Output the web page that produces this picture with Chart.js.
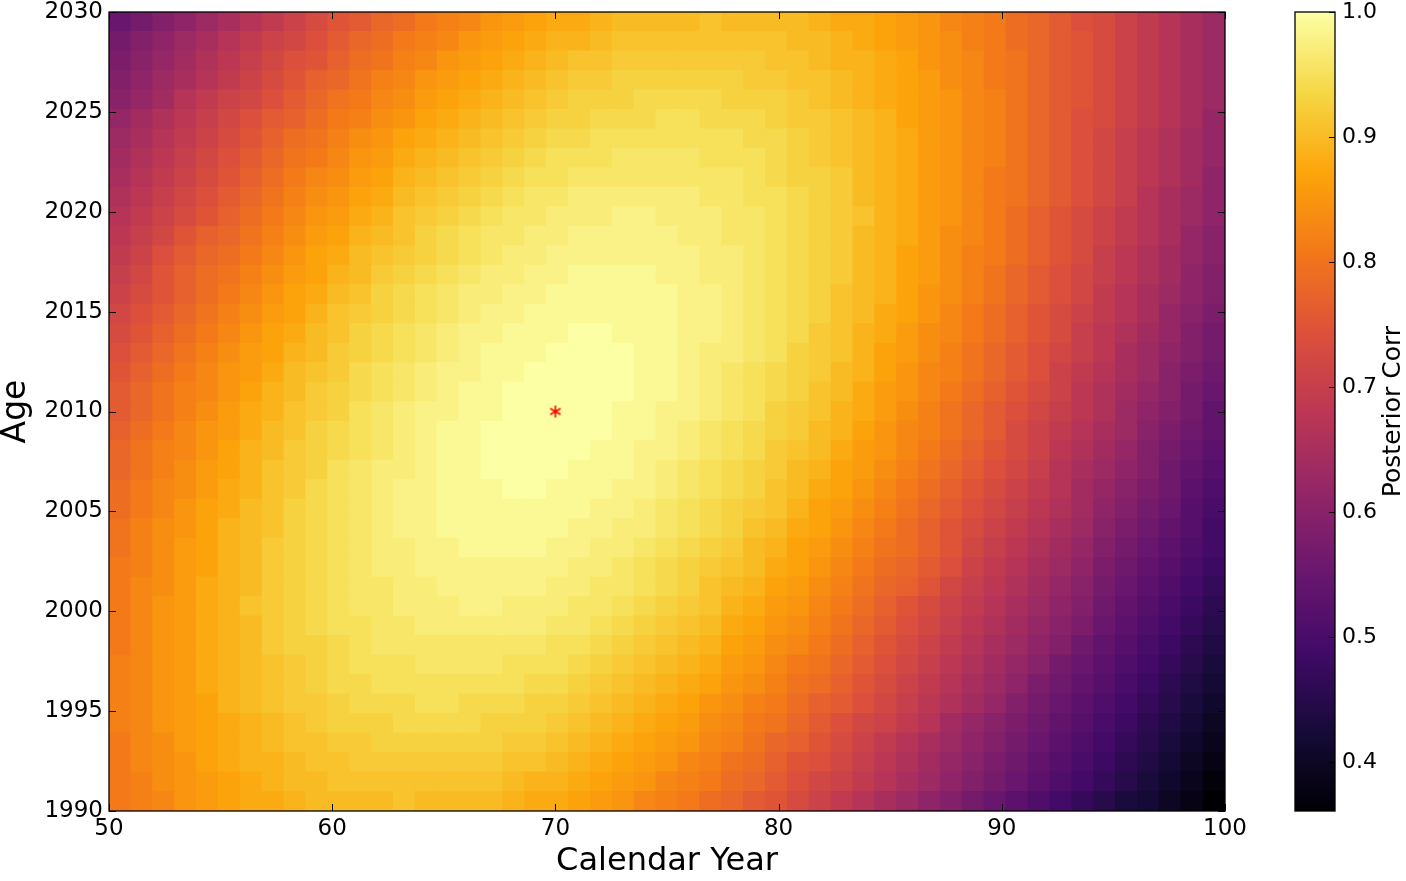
<!DOCTYPE html>
<html>
<head>
<meta charset="utf-8">
<title>Posterior Corr</title>
<script src="https://cdn.jsdelivr.net/npm/chart.js@4.4.1/dist/chart.umd.min.js"></script>
<style>
  html, body { margin: 0; padding: 0; background: #fff; }
  #wrap { position: relative; width: 1406px; height: 881px; }
  #main { position: absolute; left: 0; top: 0; width: 1260px; height: 881px; }
  #cbar { position: absolute; left: 1260px; top: 0; width: 146px; height: 881px; }
</style>
</head>
<body>
<div id="wrap">
  <div id="main"><canvas id="heat"></canvas></div>
  <div id="cbar"><canvas id="barra"></canvas></div>
</div>
<script>
// columnas (Calendar Year) y filas (Age)
const calYears = [50, 51, 52, 53, 54, 55, 56, 57, 58, 59, 60, 61, 62, 63, 64, 65, 66, 67, 68, 69, 70,
  71, 72, 73, 74, 75, 76, 77, 78, 79, 80, 81, 82, 83, 84, 85, 86, 87, 88, 89, 90,
  91, 92, 93, 94, 95, 96, 97, 98, 99, 100];
const ages = [1990, 1991, 1992, 1993, 1994, 1995, 1996, 1997, 1998, 1999, 2000,
  2001, 2002, 2003, 2004, 2005, 2006, 2007, 2008, 2009, 2010,
  2011, 2012, 2013, 2014, 2015, 2016, 2017, 2018, 2019, 2020,
  2021, 2022, 2023, 2024, 2025, 2026, 2027, 2028, 2029, 2030];

// ticks
const xTicks = [50, 60, 70, 80, 90, 100];
const yTicks = [1990, 1995, 2000, 2005, 2010, 2015, 2020, 2025, 2030];
const cbarTicks = [0.4, 0.5, 0.6, 0.7, 0.8, 0.9, 1.0];
const cbarMin = 0.361;
const cbarMax = 1.0;

// punto marcado
const bestPoint = [70, 2010];

// Posterior Corr, una fila por cada Age (1990 primero), 51 valores por fila
const posteriorCorr = [
  [0.81,0.82,0.83,0.85,0.86,0.87,0.88,0.88,0.89,0.90,0.90,0.90,0.90,0.91,0.90,0.90,0.90,0.90,0.89,0.88,0.88,0.87,0.86,0.85,0.83,0.82,0.81,0.79,0.78,0.76,0.75,0.73,0.71,0.69,0.67,0.65,0.63,0.61,0.59,0.57,0.55,0.53,0.51,0.49,0.47,0.45,0.43,0.42,0.40,0.38,0.36], // 1990
  [0.81,0.82,0.84,0.85,0.86,0.87,0.88,0.89,0.90,0.90,0.91,0.91,0.91,0.91,0.91,0.91,0.91,0.91,0.90,0.89,0.89,0.88,0.87,0.86,0.85,0.83,0.82,0.81,0.79,0.78,0.76,0.74,0.72,0.71,0.69,0.67,0.65,0.63,0.61,0.59,0.57,0.55,0.53,0.51,0.49,0.47,0.45,0.43,0.41,0.39,0.37], // 1991
  [0.81,0.83,0.84,0.85,0.87,0.88,0.89,0.89,0.90,0.91,0.91,0.92,0.92,0.92,0.92,0.92,0.92,0.92,0.91,0.91,0.90,0.89,0.88,0.87,0.86,0.85,0.83,0.82,0.80,0.79,0.77,0.75,0.74,0.72,0.70,0.68,0.66,0.64,0.62,0.60,0.58,0.56,0.54,0.52,0.50,0.48,0.46,0.44,0.42,0.40,0.38], // 1992
  [0.81,0.83,0.84,0.86,0.87,0.88,0.89,0.90,0.91,0.91,0.92,0.92,0.93,0.93,0.93,0.93,0.93,0.93,0.92,0.92,0.91,0.90,0.89,0.88,0.87,0.86,0.85,0.83,0.82,0.80,0.78,0.77,0.75,0.73,0.71,0.69,0.67,0.65,0.63,0.61,0.59,0.57,0.55,0.53,0.51,0.49,0.47,0.45,0.43,0.41,0.39], // 1993
  [0.82,0.83,0.85,0.86,0.87,0.88,0.89,0.90,0.91,0.92,0.93,0.93,0.93,0.94,0.94,0.94,0.94,0.93,0.93,0.93,0.92,0.91,0.90,0.89,0.88,0.87,0.86,0.84,0.83,0.81,0.80,0.78,0.76,0.74,0.72,0.71,0.69,0.67,0.64,0.62,0.60,0.58,0.56,0.54,0.52,0.50,0.48,0.46,0.44,0.42,0.40], // 1994
  [0.82,0.83,0.85,0.86,0.87,0.89,0.90,0.91,0.92,0.92,0.93,0.94,0.94,0.94,0.95,0.95,0.94,0.94,0.94,0.93,0.93,0.92,0.91,0.90,0.89,0.88,0.87,0.85,0.84,0.82,0.81,0.79,0.77,0.76,0.74,0.72,0.70,0.68,0.66,0.64,0.62,0.59,0.57,0.55,0.53,0.51,0.49,0.47,0.45,0.43,0.41], // 1995
  [0.82,0.83,0.85,0.86,0.88,0.89,0.90,0.91,0.92,0.93,0.94,0.94,0.95,0.95,0.95,0.95,0.95,0.95,0.95,0.94,0.94,0.93,0.92,0.91,0.90,0.89,0.88,0.87,0.85,0.84,0.82,0.80,0.79,0.77,0.75,0.73,0.71,0.69,0.67,0.65,0.63,0.61,0.58,0.56,0.54,0.52,0.50,0.48,0.46,0.44,0.42], // 1996
  [0.82,0.83,0.85,0.86,0.88,0.89,0.90,0.91,0.92,0.93,0.94,0.95,0.95,0.95,0.96,0.96,0.96,0.96,0.95,0.95,0.95,0.94,0.93,0.92,0.91,0.90,0.89,0.88,0.86,0.85,0.83,0.81,0.80,0.78,0.76,0.74,0.72,0.70,0.68,0.66,0.64,0.62,0.60,0.57,0.55,0.53,0.51,0.49,0.47,0.45,0.43], // 1997
  [0.81,0.83,0.85,0.86,0.88,0.89,0.90,0.92,0.93,0.93,0.94,0.95,0.96,0.96,0.96,0.96,0.96,0.96,0.96,0.96,0.95,0.95,0.94,0.93,0.92,0.91,0.90,0.89,0.87,0.86,0.84,0.83,0.81,0.79,0.77,0.75,0.73,0.71,0.69,0.67,0.65,0.63,0.61,0.59,0.56,0.54,0.52,0.50,0.48,0.46,0.44], // 1998
  [0.81,0.83,0.85,0.86,0.88,0.89,0.90,0.92,0.93,0.94,0.95,0.95,0.96,0.96,0.97,0.97,0.97,0.97,0.97,0.97,0.96,0.96,0.95,0.94,0.93,0.92,0.91,0.90,0.88,0.87,0.85,0.84,0.82,0.80,0.78,0.76,0.74,0.72,0.70,0.68,0.66,0.64,0.62,0.60,0.58,0.55,0.53,0.51,0.49,0.47,0.45], // 1999
  [0.81,0.83,0.85,0.86,0.88,0.89,0.91,0.92,0.93,0.94,0.95,0.96,0.96,0.97,0.97,0.97,0.98,0.98,0.97,0.97,0.97,0.96,0.96,0.95,0.94,0.93,0.92,0.91,0.89,0.88,0.86,0.85,0.83,0.81,0.79,0.77,0.75,0.73,0.71,0.69,0.67,0.65,0.63,0.61,0.59,0.56,0.54,0.52,0.50,0.48,0.46], // 2000
  [0.81,0.83,0.84,0.86,0.88,0.89,0.90,0.92,0.93,0.94,0.95,0.96,0.96,0.97,0.97,0.98,0.98,0.98,0.98,0.98,0.97,0.97,0.96,0.96,0.95,0.94,0.93,0.91,0.90,0.89,0.87,0.86,0.84,0.82,0.80,0.78,0.77,0.75,0.72,0.70,0.68,0.66,0.64,0.62,0.60,0.57,0.55,0.53,0.51,0.49,0.47], // 2001
  [0.81,0.82,0.84,0.86,0.87,0.89,0.90,0.92,0.93,0.94,0.95,0.96,0.97,0.97,0.98,0.98,0.98,0.98,0.98,0.98,0.98,0.97,0.97,0.96,0.95,0.94,0.93,0.92,0.91,0.90,0.88,0.87,0.85,0.83,0.81,0.79,0.78,0.76,0.74,0.71,0.69,0.67,0.65,0.63,0.61,0.58,0.56,0.54,0.52,0.50,0.48], // 2002
  [0.80,0.82,0.84,0.86,0.87,0.89,0.90,0.92,0.93,0.94,0.95,0.96,0.97,0.97,0.98,0.98,0.99,0.99,0.99,0.99,0.98,0.98,0.97,0.97,0.96,0.95,0.94,0.93,0.92,0.90,0.89,0.87,0.86,0.84,0.82,0.80,0.79,0.77,0.75,0.72,0.70,0.68,0.66,0.64,0.62,0.59,0.57,0.55,0.53,0.51,0.49], // 2003
  [0.80,0.82,0.84,0.85,0.87,0.89,0.90,0.91,0.93,0.94,0.95,0.96,0.97,0.98,0.98,0.99,0.99,0.99,0.99,0.99,0.99,0.98,0.98,0.97,0.97,0.96,0.95,0.94,0.93,0.91,0.90,0.88,0.87,0.85,0.83,0.81,0.79,0.77,0.75,0.73,0.71,0.69,0.67,0.65,0.63,0.60,0.58,0.56,0.54,0.52,0.49], // 2004
  [0.79,0.81,0.83,0.85,0.87,0.88,0.90,0.91,0.93,0.94,0.95,0.96,0.97,0.98,0.98,0.99,0.99,0.99,0.99,0.99,0.99,0.99,0.98,0.98,0.97,0.96,0.95,0.94,0.93,0.92,0.91,0.89,0.87,0.86,0.84,0.82,0.80,0.78,0.76,0.74,0.72,0.70,0.68,0.66,0.64,0.61,0.59,0.57,0.55,0.52,0.50], // 2005
  [0.79,0.81,0.83,0.84,0.86,0.88,0.89,0.91,0.92,0.94,0.95,0.96,0.97,0.98,0.98,0.99,0.99,0.99,1.00,1.00,0.99,0.99,0.99,0.98,0.98,0.97,0.96,0.95,0.94,0.93,0.91,0.90,0.88,0.87,0.85,0.83,0.81,0.79,0.77,0.75,0.73,0.71,0.69,0.67,0.64,0.62,0.60,0.58,0.56,0.53,0.51], // 2006
  [0.78,0.80,0.82,0.84,0.86,0.87,0.89,0.91,0.92,0.93,0.95,0.96,0.97,0.97,0.98,0.99,0.99,1.00,1.00,1.00,1.00,0.99,0.99,0.99,0.98,0.97,0.96,0.95,0.94,0.93,0.92,0.90,0.89,0.87,0.86,0.84,0.82,0.80,0.78,0.76,0.74,0.72,0.70,0.67,0.65,0.63,0.61,0.59,0.56,0.54,0.52], // 2007
  [0.78,0.80,0.82,0.83,0.85,0.87,0.89,0.90,0.92,0.93,0.94,0.95,0.96,0.97,0.98,0.99,0.99,1.00,1.00,1.00,1.00,1.00,0.99,0.99,0.98,0.98,0.97,0.96,0.95,0.94,0.92,0.91,0.90,0.88,0.86,0.85,0.83,0.81,0.79,0.77,0.75,0.73,0.71,0.68,0.66,0.64,0.62,0.59,0.57,0.55,0.53], // 2008
  [0.77,0.79,0.81,0.83,0.85,0.86,0.88,0.90,0.91,0.93,0.94,0.95,0.96,0.97,0.98,0.99,0.99,1.00,1.00,1.00,1.00,1.00,1.00,0.99,0.99,0.98,0.97,0.96,0.95,0.94,0.93,0.92,0.90,0.89,0.87,0.85,0.83,0.82,0.80,0.78,0.76,0.73,0.71,0.69,0.67,0.65,0.63,0.60,0.58,0.56,0.54], // 2009
  [0.76,0.78,0.80,0.82,0.84,0.86,0.88,0.89,0.91,0.92,0.93,0.95,0.96,0.97,0.98,0.98,0.99,0.99,1.00,1.00,1.00,1.00,1.00,0.99,0.99,0.98,0.98,0.97,0.96,0.95,0.93,0.92,0.91,0.89,0.88,0.86,0.84,0.82,0.80,0.78,0.76,0.74,0.72,0.70,0.68,0.66,0.63,0.61,0.59,0.57,0.54], // 2010
  [0.76,0.78,0.80,0.82,0.83,0.85,0.87,0.89,0.90,0.92,0.93,0.94,0.95,0.96,0.97,0.98,0.99,0.99,1.00,1.00,1.00,1.00,1.00,1.00,0.99,0.99,0.98,0.97,0.96,0.95,0.94,0.93,0.91,0.90,0.88,0.86,0.85,0.83,0.81,0.79,0.77,0.75,0.73,0.71,0.68,0.66,0.64,0.62,0.60,0.57,0.55], // 2011
  [0.75,0.77,0.79,0.81,0.83,0.85,0.86,0.88,0.90,0.91,0.92,0.94,0.95,0.96,0.97,0.98,0.98,0.99,0.99,1.00,1.00,1.00,1.00,1.00,0.99,0.99,0.98,0.97,0.96,0.95,0.94,0.93,0.92,0.90,0.89,0.87,0.85,0.83,0.82,0.80,0.78,0.76,0.74,0.71,0.69,0.67,0.65,0.63,0.60,0.58,0.56], // 2012
  [0.74,0.76,0.78,0.80,0.82,0.84,0.86,0.87,0.89,0.90,0.92,0.93,0.94,0.95,0.96,0.97,0.98,0.99,0.99,0.99,1.00,1.00,1.00,1.00,0.99,0.99,0.98,0.97,0.97,0.96,0.95,0.93,0.92,0.91,0.89,0.87,0.86,0.84,0.82,0.80,0.78,0.76,0.74,0.72,0.70,0.68,0.65,0.63,0.61,0.59,0.57], // 2013
  [0.73,0.75,0.77,0.79,0.81,0.83,0.85,0.87,0.88,0.90,0.91,0.93,0.94,0.95,0.96,0.97,0.98,0.98,0.99,0.99,0.99,1.00,1.00,0.99,0.99,0.99,0.98,0.98,0.97,0.96,0.95,0.94,0.92,0.91,0.89,0.88,0.86,0.84,0.83,0.81,0.79,0.77,0.75,0.73,0.70,0.68,0.66,0.64,0.62,0.59,0.57], // 2014
  [0.72,0.74,0.76,0.78,0.80,0.82,0.84,0.86,0.87,0.89,0.91,0.92,0.93,0.94,0.95,0.96,0.97,0.98,0.98,0.99,0.99,0.99,0.99,0.99,0.99,0.99,0.98,0.98,0.97,0.96,0.95,0.94,0.93,0.91,0.90,0.88,0.87,0.85,0.83,0.81,0.79,0.77,0.75,0.73,0.71,0.69,0.67,0.65,0.62,0.60,0.58], // 2015
  [0.71,0.73,0.75,0.77,0.79,0.81,0.83,0.85,0.87,0.88,0.90,0.91,0.93,0.94,0.95,0.96,0.97,0.97,0.98,0.98,0.99,0.99,0.99,0.99,0.99,0.99,0.98,0.98,0.97,0.96,0.95,0.94,0.93,0.91,0.90,0.89,0.87,0.85,0.84,0.82,0.80,0.78,0.76,0.74,0.72,0.69,0.67,0.65,0.63,0.61,0.59], // 2016
  [0.70,0.72,0.75,0.77,0.79,0.80,0.82,0.84,0.86,0.87,0.89,0.90,0.92,0.93,0.94,0.95,0.96,0.97,0.97,0.98,0.98,0.99,0.99,0.99,0.99,0.98,0.98,0.97,0.97,0.96,0.95,0.94,0.93,0.92,0.90,0.89,0.87,0.86,0.84,0.82,0.80,0.78,0.76,0.74,0.72,0.70,0.68,0.66,0.64,0.61,0.59], // 2017
  [0.69,0.71,0.74,0.76,0.78,0.79,0.81,0.83,0.85,0.87,0.88,0.90,0.91,0.92,0.93,0.94,0.95,0.96,0.97,0.97,0.98,0.98,0.98,0.98,0.98,0.98,0.98,0.97,0.97,0.96,0.95,0.94,0.93,0.92,0.90,0.89,0.87,0.86,0.84,0.82,0.81,0.79,0.77,0.75,0.73,0.70,0.68,0.66,0.64,0.62,0.60], // 2018
  [0.68,0.70,0.72,0.75,0.77,0.78,0.80,0.82,0.84,0.86,0.87,0.89,0.90,0.91,0.93,0.94,0.95,0.96,0.96,0.97,0.97,0.98,0.98,0.98,0.98,0.98,0.97,0.97,0.96,0.96,0.95,0.94,0.93,0.92,0.90,0.89,0.88,0.86,0.84,0.83,0.81,0.79,0.77,0.75,0.73,0.71,0.69,0.67,0.65,0.62,0.60], // 2019
  [0.67,0.69,0.71,0.73,0.75,0.77,0.79,0.81,0.83,0.85,0.86,0.88,0.89,0.91,0.92,0.93,0.94,0.95,0.96,0.96,0.97,0.97,0.97,0.98,0.98,0.97,0.97,0.97,0.96,0.96,0.95,0.94,0.93,0.92,0.91,0.89,0.88,0.86,0.85,0.83,0.81,0.79,0.77,0.75,0.73,0.71,0.69,0.67,0.65,0.63,0.61], // 2020
  [0.66,0.68,0.70,0.72,0.74,0.76,0.78,0.80,0.82,0.84,0.85,0.87,0.88,0.90,0.91,0.92,0.93,0.94,0.95,0.96,0.96,0.97,0.97,0.97,0.97,0.97,0.97,0.96,0.96,0.95,0.95,0.94,0.93,0.92,0.90,0.89,0.88,0.86,0.85,0.83,0.81,0.80,0.78,0.76,0.74,0.72,0.70,0.67,0.65,0.63,0.61], // 2021
  [0.65,0.67,0.69,0.71,0.73,0.75,0.77,0.79,0.81,0.83,0.84,0.86,0.87,0.89,0.90,0.91,0.92,0.93,0.94,0.95,0.95,0.96,0.96,0.96,0.96,0.96,0.96,0.96,0.96,0.95,0.94,0.93,0.93,0.92,0.90,0.89,0.88,0.86,0.85,0.83,0.81,0.80,0.78,0.76,0.74,0.72,0.70,0.68,0.66,0.64,0.61], // 2022
  [0.64,0.66,0.68,0.70,0.72,0.74,0.76,0.78,0.80,0.81,0.83,0.85,0.86,0.88,0.89,0.90,0.91,0.92,0.93,0.94,0.95,0.95,0.95,0.96,0.96,0.96,0.96,0.95,0.95,0.95,0.94,0.93,0.92,0.91,0.90,0.89,0.88,0.86,0.85,0.83,0.82,0.80,0.78,0.76,0.74,0.72,0.70,0.68,0.66,0.64,0.62], // 2023
  [0.63,0.65,0.67,0.69,0.71,0.73,0.75,0.77,0.79,0.80,0.82,0.84,0.85,0.87,0.88,0.89,0.90,0.91,0.92,0.93,0.94,0.94,0.95,0.95,0.95,0.95,0.95,0.95,0.95,0.94,0.94,0.93,0.92,0.91,0.90,0.89,0.88,0.86,0.85,0.83,0.82,0.80,0.78,0.76,0.74,0.72,0.70,0.68,0.66,0.64,0.62], // 2024
  [0.62,0.64,0.66,0.68,0.70,0.72,0.74,0.76,0.77,0.79,0.81,0.82,0.84,0.85,0.87,0.88,0.89,0.90,0.91,0.92,0.93,0.93,0.94,0.94,0.94,0.95,0.95,0.94,0.94,0.94,0.93,0.92,0.92,0.91,0.90,0.89,0.87,0.86,0.85,0.83,0.82,0.80,0.78,0.76,0.74,0.73,0.71,0.69,0.67,0.65,0.62], // 2025
  [0.60,0.62,0.64,0.67,0.69,0.71,0.72,0.74,0.76,0.78,0.80,0.81,0.83,0.84,0.86,0.87,0.88,0.89,0.90,0.91,0.92,0.93,0.93,0.93,0.94,0.94,0.94,0.94,0.93,0.93,0.93,0.92,0.91,0.90,0.89,0.88,0.87,0.86,0.85,0.83,0.82,0.80,0.78,0.76,0.75,0.73,0.71,0.69,0.67,0.65,0.63], // 2026
  [0.59,0.61,0.63,0.65,0.67,0.69,0.71,0.73,0.75,0.77,0.78,0.80,0.82,0.83,0.85,0.86,0.87,0.88,0.89,0.90,0.91,0.92,0.92,0.93,0.93,0.93,0.93,0.93,0.93,0.92,0.92,0.91,0.91,0.90,0.89,0.88,0.87,0.86,0.84,0.83,0.81,0.80,0.78,0.76,0.75,0.73,0.71,0.69,0.67,0.65,0.63], // 2027
  [0.58,0.60,0.62,0.64,0.66,0.68,0.70,0.72,0.74,0.75,0.77,0.79,0.80,0.82,0.83,0.85,0.86,0.87,0.88,0.89,0.90,0.91,0.91,0.92,0.92,0.92,0.92,0.92,0.92,0.92,0.91,0.91,0.90,0.89,0.89,0.88,0.87,0.85,0.84,0.83,0.81,0.80,0.78,0.76,0.75,0.73,0.71,0.69,0.67,0.65,0.63], // 2028
  [0.57,0.59,0.61,0.63,0.65,0.67,0.69,0.71,0.72,0.74,0.76,0.78,0.79,0.81,0.82,0.83,0.85,0.86,0.87,0.88,0.89,0.89,0.90,0.91,0.91,0.91,0.91,0.91,0.91,0.91,0.91,0.90,0.90,0.89,0.88,0.87,0.86,0.85,0.84,0.82,0.81,0.79,0.78,0.76,0.75,0.73,0.71,0.69,0.67,0.65,0.63], // 2029
  [0.55,0.57,0.59,0.61,0.63,0.65,0.67,0.69,0.71,0.73,0.75,0.76,0.78,0.79,0.81,0.82,0.83,0.85,0.86,0.87,0.88,0.88,0.89,0.90,0.90,0.90,0.90,0.91,0.90,0.90,0.90,0.90,0.89,0.88,0.88,0.87,0.86,0.85,0.83,0.82,0.81,0.79,0.78,0.76,0.74,0.73,0.71,0.69,0.67,0.65,0.63]  // 2030
];

// paleta inferno
const infernoStops = ['#000004', '#160b39', '#420a68', '#6a176e', '#932667', '#bc3754',
  '#dd513a', '#f37819', '#fca50a', '#f6d746', '#fcffa4'];
const infernoRgb = infernoStops.map((h) => [1, 3, 5].map((k) => parseInt(h.slice(k, k + 2), 16)));

function colorFor(v) {
  let t = (v - cbarMin) / (cbarMax - cbarMin);
  t = Math.min(1, Math.max(0, t));
  const p = t * (infernoRgb.length - 1);
  const i = Math.min(Math.floor(p), infernoRgb.length - 2);
  const f = p - i;
  const a = infernoRgb[i], b = infernoRgb[i + 1];
  const c = a.map((x, k) => Math.round(x + (b[k] - x) * f));
  return `rgb(${c[0]},${c[1]},${c[2]})`;
}

Chart.defaults.font.family = "'DejaVu Sans', sans-serif";
Chart.defaults.color = '#000';

// geometria de celdas (extent de la imagen)
const xLo = calYears[0], xHi = calYears[calYears.length - 1];
const yLo = ages[0], yHi = ages[ages.length - 1];
const cellW = (xHi - xLo) / calYears.length;
const cellH = (yHi - yLo) / ages.length;

const cellSets = ages.map((age, j) => ({
  type: 'bar',
  label: String(age),
  data: calYears.map((cy, i) => ({
    x: xLo + (i + 0.5) * cellW,
    y: [yLo + j * cellH, yLo + (j + 1) * cellH],
  })),
  backgroundColor: posteriorCorr[j].map(colorFor),
  borderWidth: 0,
  barPercentage: 1,
  categoryPercentage: 1,
  grouped: false,
  inflateAmount: 0.5,
  order: 2,
}));

// asterisco rojo
function asterisco() {
  const c = document.createElement('canvas');
  c.width = 16;
  c.height = 16;
  const g = c.getContext('2d');
  g.strokeStyle = '#ff0000';
  g.lineWidth = 1.6;
  g.beginPath();
  for (let k = 0; k < 3; k++) {
    const ang = Math.PI / 2 + (k * Math.PI) / 3;
    g.moveTo(8 + 6 * Math.cos(ang), 8 - 6 * Math.sin(ang));
    g.lineTo(8 - 6 * Math.cos(ang), 8 + 6 * Math.sin(ang));
  }
  g.stroke();
  return c;
}

// marco y ticks hacia dentro en los cuatro lados
const frameTicks = {
  id: 'frameTicks',
  afterDatasetsDraw(chart) {
    const { ctx, chartArea: a, scales } = chart;
    const x = scales.x, y = scales.y;
    ctx.save();
    ctx.strokeStyle = '#000';
    ctx.lineWidth = 1;
    ctx.beginPath();
    x.ticks.forEach((t) => {
      const px = Math.round(x.getPixelForValue(t.value)) + 0.5;
      ctx.moveTo(px, a.bottom); ctx.lineTo(px, a.bottom - 7);
      ctx.moveTo(px, a.top); ctx.lineTo(px, a.top + 7);
    });
    y.ticks.forEach((t) => {
      const py = Math.round(y.getPixelForValue(t.value)) + 0.5;
      ctx.moveTo(a.left, py); ctx.lineTo(a.left + 7, py);
      ctx.moveTo(a.right, py); ctx.lineTo(a.right - 7, py);
    });
    ctx.stroke();
    ctx.lineWidth = 1.3;
    ctx.strokeRect(a.left, a.top, a.right - a.left, a.bottom - a.top);
    ctx.restore();
  },
};

const tickFont = { size: 23, lineHeight: 1 };

new Chart(document.getElementById('heat'), {
  type: 'bar',
  data: {
    datasets: [
      ...cellSets,
      {
        type: 'scatter',
        label: 'best',
        data: [{ x: bestPoint[0], y: bestPoint[1] }],
        pointStyle: asterisco(),
        pointRadius: 6,
        order: 0,
      },
    ],
  },
  options: {
    animation: false,
    responsive: true,
    maintainAspectRatio: false,
    layout: { padding: { left: 0, right: 35, top: 12, bottom: 0 } },
    plugins: { legend: { display: false }, tooltip: { enabled: false } },
    scales: {
      x: {
        type: 'linear',
        min: xLo,
        max: xHi,
        offset: false,
        grid: { display: false, drawTicks: false, offset: false },
        border: { display: false },
        afterBuildTicks: (s) => { s.ticks = xTicks.map((v) => ({ value: v })); },
        ticks: { padding: 7, font: tickFont, maxRotation: 0, autoSkip: false, callback: (v) => String(v) },
        title: { display: true, text: 'Calendar Year', font: { size: 32 }, padding: 0 },
        afterFit: (s) => { s.height = 70; },
      },
      y: {
        type: 'linear',
        min: yLo,
        max: yHi,
        grid: { display: false, drawTicks: false },
        border: { display: false },
        afterBuildTicks: (s) => { s.ticks = yTicks.map((v) => ({ value: v })); },
        ticks: { padding: 6, font: tickFont, autoSkip: false, callback: (v) => String(v) },
        title: { display: true, text: 'Age', font: { size: 33, lineHeight: 1 }, padding: 0 },
        afterFit: (s) => { s.width = 109; s.paddingTop = 10; s.paddingBottom = 10; },
      },
    },
  },
  plugins: [frameTicks],
});

// barra de color
const colorbar = {
  id: 'colorbar',
  beforeDatasetsDraw(chart) {
    const { ctx, chartArea: a } = chart;
    const g = ctx.createLinearGradient(0, a.bottom, 0, a.top);
    infernoStops.forEach((c, i) => g.addColorStop(i / (infernoStops.length - 1), c));
    ctx.save();
    ctx.fillStyle = g;
    ctx.fillRect(a.left, a.top, a.right - a.left, a.bottom - a.top);
    ctx.restore();
  },
  afterDraw(chart) {
    const { ctx, chartArea: a, scales } = chart;
    const y = scales.y;
    ctx.save();
    ctx.strokeStyle = '#000';
    ctx.lineWidth = 1;
    ctx.beginPath();
    y.ticks.forEach((t) => {
      const py = Math.round(y.getPixelForValue(t.value)) + 0.5;
      ctx.moveTo(a.right, py); ctx.lineTo(a.right - 6, py);
    });
    ctx.stroke();
    ctx.lineWidth = 1.3;
    ctx.strokeRect(a.left, a.top, a.right - a.left, a.bottom - a.top);
    // titulo de la barra
    ctx.translate(a.right + 58, (a.top + a.bottom) / 2);
    ctx.rotate(-Math.PI / 2);
    ctx.fillStyle = '#000';
    ctx.font = "25px 'DejaVu Sans', sans-serif";
    ctx.textAlign = 'center';
    ctx.textBaseline = 'middle';
    ctx.fillText('Posterior Corr', 0, 0);
    ctx.restore();
  },
};

new Chart(document.getElementById('barra'), {
  type: 'scatter',
  data: { datasets: [] },
  options: {
    animation: false,
    responsive: true,
    maintainAspectRatio: false,
    layout: { padding: { left: 35, right: 0, top: 12, bottom: 70 } },
    plugins: { legend: { display: false }, tooltip: { enabled: false } },
    scales: {
      x: { display: false },
      y: {
        position: 'right',
        min: cbarMin,
        max: cbarMax,
        grid: { display: false, drawTicks: false },
        border: { display: false },
        afterBuildTicks: (s) => { s.ticks = cbarTicks.map((v) => ({ value: v })); },
        ticks: { padding: 7, font: { size: 22, lineHeight: 1 }, callback: (v) => v.toFixed(1) },
        afterFit: (s) => { s.width = 71; s.paddingTop = 10; s.paddingBottom = 10; },
      },
    },
  },
  plugins: [colorbar],
});
</script>
</body>
</html>
